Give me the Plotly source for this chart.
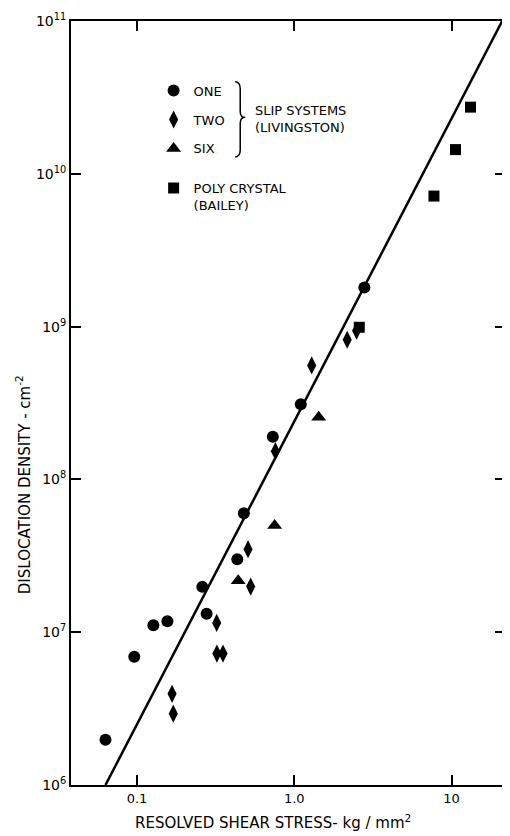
import plotly.graph_objects as go

# ---- data ----
one_x = [0.063, 0.096, 0.127, 0.156, 0.26, 0.277, 0.434, 0.478, 0.73, 1.10, 2.79]
one_y = [1.98e6, 6.9e6, 1.11e7, 1.18e7, 1.98e7, 1.32e7, 3.0e7, 6.0e7, 1.9e8, 3.1e8, 1.8e9]

two_x = [0.167, 0.17, 0.321, 0.322, 0.352, 0.508, 0.528, 0.758, 1.29, 2.17, 2.49]
two_y = [3.95e6, 2.93e6, 1.15e7, 7.25e6, 7.25e6, 3.49e7, 1.99e7, 1.53e8, 5.57e8, 8.2e8, 9.4e8]

six_x = [0.44, 0.75, 1.43]
six_y = [2.17e7, 5.0e7, 2.55e8]

poly_x = [2.59, 7.73, 10.6, 13.2]
poly_y = [9.9e8, 7.15e9, 1.44e10, 2.73e10]

fit_x = [0.063, 21.0]
fit_y = [1e6, 1e11]

x_tickvals = [0.1, 1.0, 10]
x_ticktext = ["0.1", "1.0", "10"]
y_tickvals = [1e6, 1e7, 1e8, 1e9, 1e10, 1e11]
y_ticktext = ["10<sup>6</sup>", "10<sup>7</sup>", "10<sup>8</sup>",
              "10<sup>9</sup>", "10<sup>10</sup>", "10<sup>11</sup>"]

FONT = "DejaVu Sans"
OFF = 8  # default page body margin
W, H = 510 - OFF, 836 - OFF
# plot area in page pixels: left 71, right 507, top 16, bottom 785
ML, MT = 71 - OFF, 16 - OFF
MR = W - (507 - OFF)
MB = H - (785 - OFF)
PW, PH = W - ML - MR, H - MT - MB


def px(x):
    return (x - OFF - ML) / PW


def py(y):
    return (H - MB - (y - OFF)) / PH


fig = go.Figure()

fig.add_trace(go.Scatter(x=fit_x, y=fit_y, mode="lines",
                         line=dict(color="black", width=2.5),
                         showlegend=False, hoverinfo="skip"))

fig.add_trace(go.Scatter(x=one_x, y=one_y, mode="markers", name="ONE",
                         legendgroup="a",
                         marker=dict(symbol="circle", size=12, color="black")))
fig.add_trace(go.Scatter(x=two_x, y=two_y, mode="markers", name="TWO",
                         legendgroup="b",
                         marker=dict(symbol="diamond-tall", size=13, color="black")))
fig.add_trace(go.Scatter(x=six_x, y=six_y, mode="markers", name="SIX",
                         legendgroup="c",
                         marker=dict(symbol="triangle-up", size=13, color="black")))
fig.add_trace(go.Scatter(x=poly_x, y=poly_y, mode="markers",
                         name="POLY CRYSTAL<br>(BAILEY)", legend="legend2",
                         marker=dict(symbol="square", size=11, color="black")))

# brace for the slip systems group
brace = (f"M {px(236)},{py(77)} Q {px(241)},{py(78)} {px(241)},{py(84)} "
         f"L {px(241)},{py(107)} Q {px(241)},{py(113)} {px(246)},{py(113)} "
         f"Q {px(241)},{py(113)} {px(241)},{py(119)} "
         f"L {px(241)},{py(146)} Q {px(241)},{py(152)} {px(236)},{py(153)}")

fig.update_layout(
    width=W, height=H,
    margin=dict(l=ML, r=MR, t=MT, b=MB),
    paper_bgcolor="white", plot_bgcolor="white",
    font=dict(family=FONT, size=13, color="black"),
    xaxis=dict(type="log", range=[-1.42, 1.34],
               tickvals=x_tickvals, ticktext=x_ticktext,
               ticks="inside", ticklen=10, tickwidth=1.5, tickcolor="black",
               showline=True, linewidth=2, linecolor="black", mirror="ticks",
               showgrid=False, zeroline=False, ticklabeloverflow="allow",
               tickfont=dict(size=13, family=FONT)),
    yaxis=dict(type="log", range=[6, 11],
               tickvals=y_tickvals, ticktext=y_ticktext,
               ticks="inside", ticklen=10, tickwidth=1.5, tickcolor="black",
               showline=True, linewidth=2, linecolor="black", mirror="ticks",
               showgrid=False, zeroline=False, ticklabeloverflow="allow",
               tickfont=dict(size=14, family=FONT)),
    legend=dict(x=px(154), y=py(71), xanchor="left", yanchor="top",
                bgcolor="rgba(0,0,0,0)", tracegroupgap=9,
                font=dict(size=13, family=FONT)),
    legend2=dict(x=px(154), y=py(169), xanchor="left", yanchor="top",
                 bgcolor="rgba(0,0,0,0)", valign="top",
                 font=dict(size=13, family=FONT)),
    shapes=[dict(type="path", path=brace, xref="paper", yref="paper",
                 line=dict(color="black", width=1.5))],
    annotations=[
        dict(text="SLIP SYSTEMS<br>(LIVINGSTON)", x=px(254), y=py(115),
             xref="paper", yref="paper", xanchor="left", yanchor="middle",
             align="left", showarrow=False, font=dict(size=13, family=FONT)),
        dict(text="RESOLVED SHEAR STRESS- kg / mm<sup>2</sup>",
             x=px(274), y=py(822), xref="paper", yref="paper",
             xanchor="center", yanchor="middle", showarrow=False,
             font=dict(size=15, family=FONT)),
        dict(text="DISLOCATION DENSITY - cm<sup>-2</sup>",
             x=px(23), y=py(483), xref="paper", yref="paper",
             xanchor="center", yanchor="middle", textangle=-90,
             showarrow=False, font=dict(size=15, family=FONT)),
    ],
)

fig.write_html("out.html")
